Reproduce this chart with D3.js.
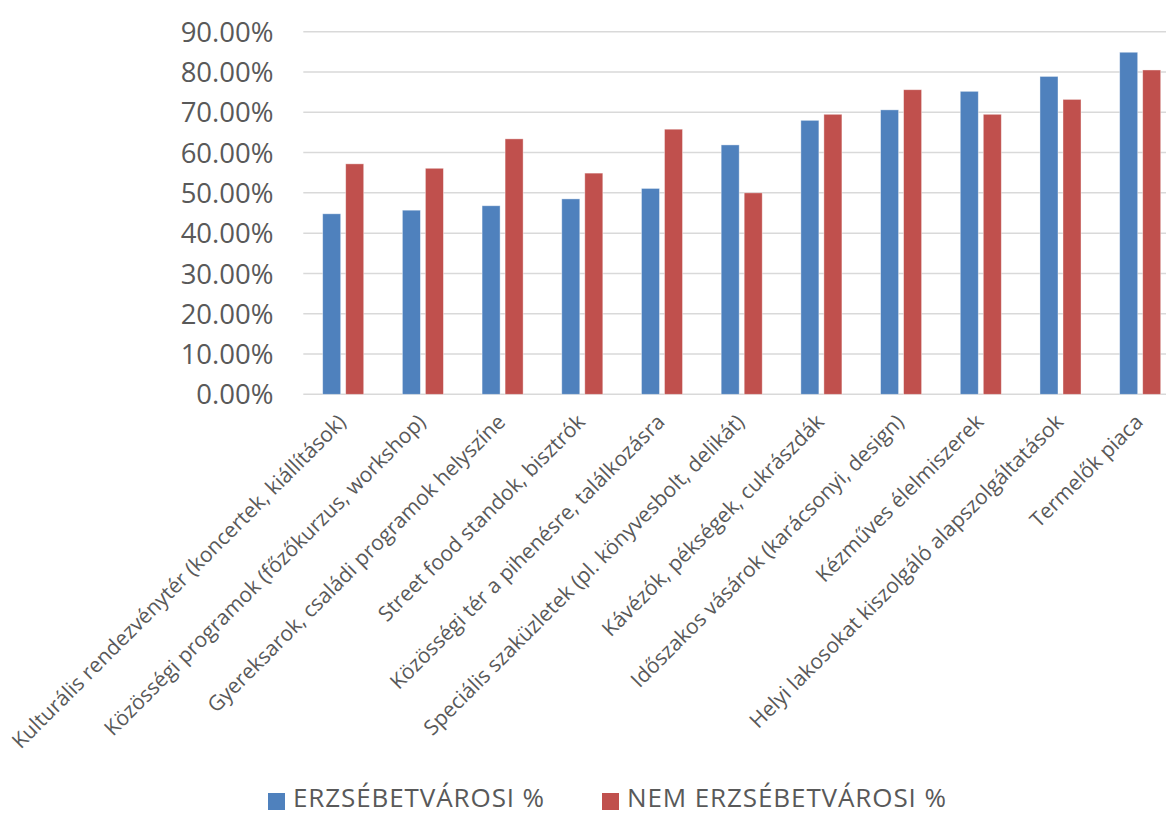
<!DOCTYPE html>
<html>
<head>
<meta charset="utf-8">
<script src="https://cdn.jsdelivr.net/npm/d3@7"></script>
<style>
  html, body { margin: 0; padding: 0; background: #fff; overflow: hidden; }
  svg { display: block; font-family: "Open Sans", sans-serif; }
</style>
</head>
<body>
<svg id="chart" width="1166" height="815"></svg>
<script>
const categories = [
  "Kulturális rendezvénytér (koncertek, kiállítások)",
  "Közösségi programok (főzőkurzus, workshop)",
  "Gyereksarok, családi programok helyszíne",
  "Street food standok, bisztrók",
  "Közösségi tér a pihenésre, találkozásra",
  "Speciális szaküzletek (pl. könyvesbolt, delikát)",
  "Kávézók, pékségek, cukrászdák",
  "Időszakos vásárok (karácsonyi, design)",
  "Kézműves élelmiszerek",
  "Helyi lakosokat kiszolgáló alapszolgáltatások",
  "Termelők piaca"
];
const seriesNames = ["ERZSÉBETVÁROSI %", "NEM ERZSÉBETVÁROSI %"];
const erzsebetvarosi = [44.8, 45.7, 46.8, 48.5, 51.1, 61.9, 68.0, 70.6, 75.2, 78.9, 84.9];
const nemErzsebetvarosi = [57.2, 56.1, 63.4, 54.9, 65.8, 50.0, 69.5, 75.6, 69.5, 73.2, 80.5];
const yTicks = [0, 10, 20, 30, 40, 50, 60, 70, 80, 90];
const colors = ["#4F81BD", "#C0504D"];

const seriesValues = [erzsebetvarosi, nemErzsebetvarosi];
const data = categories.map((c, i) => ({
  cat: c,
  vals: seriesNames.map((s, j) => ({ series: s, value: seriesValues[j][i], color: colors[j] }))
}));

const svg = d3.select("#chart");
const plot = { left: 303.3, right: 1180, top: 31.7, bottom: 394.3 };

const x0 = d3.scaleBand().domain(categories).range([plot.left, plot.right]).paddingInner(0).paddingOuter(0);
const bw = x0.bandwidth();
const x1 = d3.scaleBand().domain(seriesNames)
  .range([bw * 0.243, bw * 0.758]).paddingInner(0.217).paddingOuter(0);
const y = d3.scaleLinear().domain([0, 90]).range([plot.bottom, plot.top]);

// gridlines
svg.append("g").selectAll("line").data(yTicks).join("line")
  .attr("x1", plot.left).attr("x2", plot.right)
  .attr("y1", d => y(d)).attr("y2", d => y(d))
  .attr("stroke", "#d9d9d9").attr("stroke-width", 1.5);

// y axis labels
const yAxis = d3.axisLeft(y).tickValues(yTicks).tickSize(0).tickPadding(0)
  .tickFormat(d => d3.format(".2f")(d) + "%");
const gy = svg.append("g").attr("transform", `translate(273.5,0)`).call(yAxis);
gy.select(".domain").remove();
gy.selectAll("text").attr("fill", "#595959").style("font-size", "27.5px")
  .style("font-family", "'Open Sans', sans-serif").attr("dy", "0.35em");

// bars
const groups = svg.append("g").selectAll("g").data(data).join("g")
  .attr("transform", d => `translate(${x0(d.cat)},0)`);
groups.selectAll("rect").data(d => d.vals).join("rect")
  .attr("x", d => x1(d.series))
  .attr("width", x1.bandwidth())
  .attr("y", d => y(d.value))
  .attr("height", d => y(0) - y(d.value))
  .attr("fill", d => d.color)
  .attr("stroke", "#ffffff").attr("stroke-opacity", 0.5).attr("stroke-width", 0.8);

// x labels
const xAxis = d3.axisBottom(x0).tickSize(0).tickPadding(0);
const gx = svg.append("g").attr("transform", `translate(0,${plot.bottom})`).call(xAxis);
gx.select(".domain").remove();
gx.selectAll("text")
  .attr("fill", "#595959").style("font-size", "21px")
  .style("font-family", "'Open Sans', sans-serif")
  .attr("text-anchor", "end")
  .attr("dy", 0).attr("y", 0)
  .attr("transform", "translate(4,29) rotate(-45)");

// legend
const legend = svg.append("g");
const legendItems = [
  { name: seriesNames[0], color: colors[0], x: 268 },
  { name: seriesNames[1], color: colors[1], x: 602 }
];
legend.selectAll("rect").data(legendItems).join("rect")
  .attr("x", d => d.x).attr("y", 793).attr("width", 17).attr("height", 17)
  .attr("fill", d => d.color);
legend.selectAll("text").data(legendItems).join("text")
  .attr("x", d => d.x + 25).attr("y", 807)
  .attr("fill", "#595959").style("font-size", "26px")
  .style("letter-spacing", "0.9px")
  .text(d => d.name);
</script>
</body>
</html>
